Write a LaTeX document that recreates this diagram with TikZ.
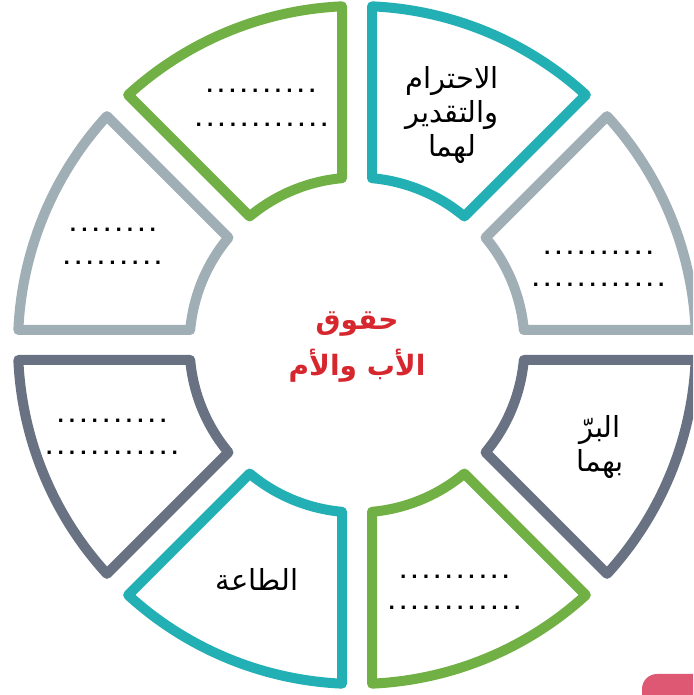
\documentclass[tikz,border=0pt]{standalone}
\usepackage{fontspec}
\TeXXeTstate=1
\newfontfamily\arabicfont[Script=Arabic]{DejaVu Sans}
\newfontfamily\dotfont{DejaVu Sans}
\definecolor{segGreen}{RGB}{112,176,68}
\definecolor{segTeal}{RGB}{35,176,181}
\definecolor{segLight}{RGB}{160,174,181}
\definecolor{segDark}{RGB}{104,114,131}
\definecolor{titleRed}{RGB}{214,39,46}
\definecolor{cornerPink}{RGB}{222,88,116}
\newcommand\ringseg[3]{%
  \draw[segline,draw=#1] ({#2+2.536}:339pt) arc[start angle={#2+2.536}, end angle={#3-2.536}, radius=339pt]
    -- ({#3-5.138}:167.5pt) arc[start angle={#3-5.138}, end angle={#2+5.138}, radius=167.5pt] -- cycle;}
\newcommand\dotrow[1]{\foreach\k in {1,...,#1}{\makebox[11.4pt]{.}}}
\tikzset{
  segline/.style={line width=10pt, line join=round, fill=white},
  labeltext/.style={font=\arabicfont\fontsize{29}{34}\selectfont, text=black, align=center, inner sep=0pt},
  titletext/.style={font=\arabicfont\bfseries\fontsize{28}{46}\selectfont, text=titleRed, align=center, inner sep=0pt},
  dotline/.style={font=\dotfont\bfseries\fontsize{18}{18}\selectfont, inner sep=0pt}
}
\begin{document}
\begin{tikzpicture}[x=1pt,y=1pt]
\clip (0,0) rectangle (693,695);
\fill[white] (0,0) rectangle (693,695);
\begin{scope}[shift={(357,350)}]
  \ringseg{segLight}{0}{45}
  \ringseg{segTeal}{45}{90}
  \ringseg{segGreen}{90}{135}
  \ringseg{segLight}{135}{180}
  \ringseg{segDark}{180}{225}
  \ringseg{segTeal}{225}{270}
  \ringseg{segGreen}{270}{315}
  \ringseg{segDark}{315}{360}
\end{scope}
% labels
\node[labeltext] (respect) at (452,580) {\beginR الاحترام\endR\\\beginR والتقدير\endR\\\beginR لهما\endR};
\node[labeltext] (birr) at (600,248) {\beginR البرّ\endR\\\beginR بهما\endR};
\node[labeltext] (obey) at (257,116) {\beginR الطاعة\endR};
\node[titletext] (title) at (357,348) {\beginR حقوق\endR\\\beginR الأب والأم\endR};
% dotted blanks
\node[dotline] (gt1) at (261,604) {\dotrow{10}};
\node[dotline] (gt2) at (261.5,570) {\dotrow{12}};
\node[dotline] (gl1) at (113,465) {\dotrow{8}};
\node[dotline] (gl2) at (112.5,432) {\dotrow{9}};
\node[dotline] (gr1) at (598.5,442) {\dotrow{10}};
\node[dotline] (gr2) at (598.5,410) {\dotrow{12}};
\node[dotline] (dl1) at (112,274) {\dotrow{10}};
\node[dotline] (dl2) at (112,242) {\dotrow{12}};
\node[dotline] (gb1) at (454.5,118) {\dotrow{10}};
\node[dotline] (gb2) at (454.5,87) {\dotrow{12}};
% corner tab
\fill[cornerPink, rounded corners=15pt] (642,-30) rectangle (730,21);
\end{tikzpicture}
\end{document}
